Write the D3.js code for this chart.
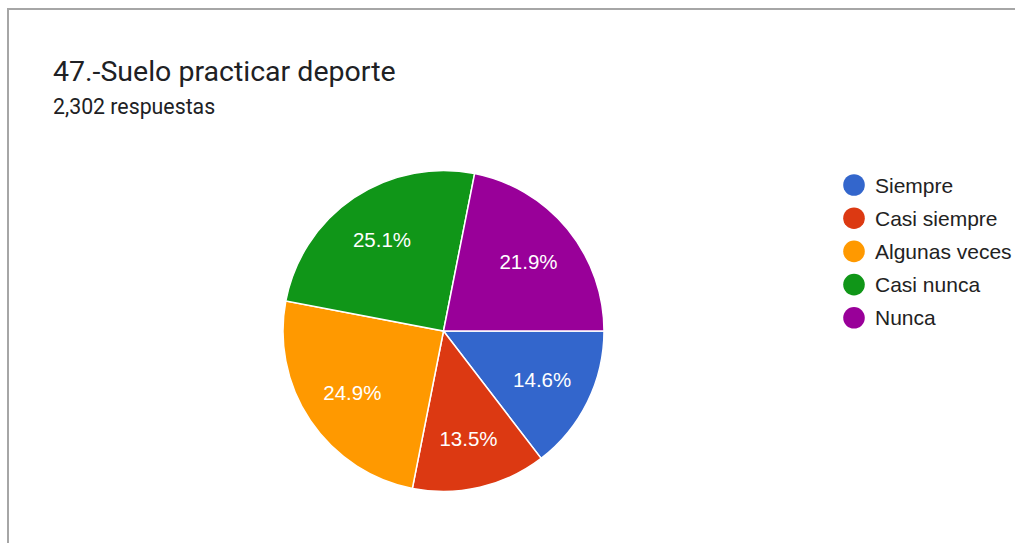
<!DOCTYPE html>
<html>
<head>
<meta charset="utf-8">
<script src="https://cdn.jsdelivr.net/npm/d3@7"></script>
<style>
  body { margin: 0; background: #fff; }
  svg { display: block; font-family: Roboto, "Noto Sans", sans-serif; }
</style>
</head>
<body>
<svg id="chart"></svg>
<script>
const width = 1015;
const height = 543;

// respuestas por opción (2,302 en total)
const categories = ["Siempre", "Casi siempre", "Algunas veces", "Casi nunca", "Nunca"];
const counts = [336, 311, 573, 578, 504];
const colors = ["#3366cc", "#dc3912", "#ff9900", "#109618", "#990099"];
const title = "47.-Suelo practicar deporte";
const subtitle = "2,302 respuestas";

const svg = d3.select("#chart").attr("width", width).attr("height", height);

// marco de la tarjeta
svg.append("path")
  .attr("d", "M8,543 L8,9 L1015,9")
  .attr("fill", "none")
  .attr("stroke", "#a6a6a6")
  .attr("stroke-width", 2);

const titleText = svg.append("text")
  .attr("x", 53)
  .attr("y", 81)
  .attr("font-size", 28.5)
  .attr("fill", "#202124")
  .text(title);

// ajustar al ancho medido en la referencia
const tw = titleText.node().getComputedTextLength();
if (Math.abs(tw - 343) > 4) titleText.attr("font-size", 28.5 * 343 / tw);

const subText = svg.append("text")
  .attr("x", 53)
  .attr("y", 114)
  .attr("font-size", 21.3)
  .attr("fill", "#202124")
  .text(subtitle);

const sw = subText.node().getComputedTextLength();
if (Math.abs(sw - 162) > 3) subText.attr("font-size", 21.3 * 162 / sw);

const total = d3.sum(counts);
const color = d3.scaleOrdinal().domain(categories).range(colors);
const fmt = d3.format(".1%");

const pie = d3.pie()
  .sort(null)
  .value(d => d.value)
  .startAngle(Math.PI / 2)
  .endAngle(Math.PI / 2 + 2 * Math.PI);

const data = categories.map((c, i) => ({ name: c, value: counts[i] }));
const arcs = pie(data);

const r = 160.5;
const arc = d3.arc().innerRadius(0).outerRadius(r);
const labelArc = d3.arc().innerRadius(110).outerRadius(110);

const g = svg.append("g").attr("transform", "translate(443.5,331)");

g.selectAll("path.slice")
  .data(arcs)
  .join("path")
  .attr("class", "slice")
  .attr("d", arc)
  .attr("fill", d => color(d.data.name))
  .attr("stroke", "#fff")
  .attr("stroke-width", 1.5);

g.selectAll("text.lbl")
  .data(arcs)
  .join("text")
  .attr("class", "lbl")
  .attr("transform", d => `translate(${labelArc.centroid(d)})`)
  .attr("text-anchor", "middle")
  .attr("dy", "0.36em")
  .attr("font-family", "Arial, 'Liberation Sans', sans-serif")
  .attr("font-size", 20.5)
  .attr("fill", "#fff")
  .text(d => fmt(d.data.value / total));

// leyenda
const legend = svg.append("g").attr("transform", "translate(854,185)");
const row = legend.selectAll("g")
  .data(categories)
  .join("g")
  .attr("transform", (d, i) => `translate(0,${i * 33.2})`);

row.append("circle")
  .attr("r", 10.8)
  .attr("fill", d => color(d));

row.append("text")
  .attr("x", 21)
  .attr("dy", "0.36em")
  .attr("font-family", "Arial, 'Liberation Sans', sans-serif")
  .attr("font-size", 21)
  .attr("fill", "#222")
  .text(d => d);
</script>
</body>
</html>
